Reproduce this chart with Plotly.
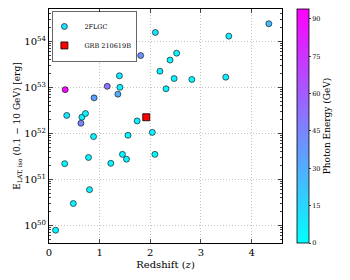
import plotly.graph_objects as go

# 2FLGC sample
redshift = [2.10, 1.81, 2.19, 1.39, 1.15, 1.40, 0.32, 1.36, 0.89, 0.35, 0.65, 0.72,
            0.63, 1.74, 4.34, 3.55, 2.52, 2.39, 2.47, 2.82, 3.49, 2.31, 0.88, 1.56,
            2.04, 1.45, 1.53, 2.09, 0.78, 1.22, 0.31, 0.80, 0.48, 0.13]
e_iso = [1.55e54, 4.9e53, 2.24e53, 1.78e53, 1.05e53, 1.0e53, 8.9e52, 7.1e52, 5.9e52,
         2.45e52, 2.24e52, 2.7e52, 1.66e52, 1.86e52, 2.4e54, 1.29e54, 5.5e53, 3.9e53,
         1.55e53, 1.48e53, 1.66e53, 9.3e52, 8.5e51, 9.1e51, 1.05e52, 3.5e51, 2.75e51,
         3.5e51, 3.0e51, 2.24e51, 2.2e51, 6.0e50, 3.0e50, 7.9e49]
photon_energy = [12, 40, 6, 8, 50, 5, 90, 30, 35, 10, 6, 5, 45, 5, 25, 6, 5, 4, 5,
                 4, 6, 5, 4, 3, 4, 5, 4, 3, 5, 4, 3, 5, 4, 3]

# GRB 210619B
grb_z = [1.92]
grb_e = [2.24e52]

ytick_vals = [1e50, 1e51, 1e52, 1e53, 1e54]
ytick_text = ["10<sup>50</sup>", "10<sup>51</sup>", "10<sup>52</sup>", "10<sup>53</sup>", "10<sup>54</sup>"]
minor_vals = [float(m) * 10.0 ** d for d in range(49, 55) for m in range(2, 10)]

FONT = "DejaVu Serif"

fig = go.Figure()
fig.add_trace(go.Scatter(
    x=redshift, y=e_iso, mode="markers", name="2FLGC",
    marker=dict(size=6, color=photon_energy, cmin=0, cmax=94,
                colorscale=[[0, "#00ffff"], [1, "#ff00ff"]],
                line=dict(color="black", width=0.6),
                colorbar=dict(x=1.063, xanchor="left", y=0.5, yanchor="middle",
                              len=1.0, lenmode="fraction", ypad=0, xpad=0,
                              thickness=12, outlinecolor="black", outlinewidth=0.8,
                              tickvals=[0, 15, 30, 45, 60, 75, 90], ticks="outside", ticklen=2,
                              tickfont=dict(family=FONT, size=6.5, color="black"),
                              title=dict(text="Photon Energy (GeV)", side="right",
                                         font=dict(family=FONT, size=9, color="black")))),
))
fig.add_trace(go.Scatter(
    x=grb_z, y=grb_e, mode="markers", name="GRB 210619B",
    marker=dict(size=7, symbol="square", color="red", line=dict(color="black", width=0.8)),
))

fig.update_layout(
    width=350, height=280,
    margin=dict(l=49, r=68, t=9, b=37, autoexpand=False),
    paper_bgcolor="white", plot_bgcolor="white",
    font=dict(family=FONT, size=10, color="black"),
    legend=dict(x=0.012, y=0.99, xanchor="left", yanchor="top",
                bgcolor="white", bordercolor="black", borderwidth=0.6,
                font=dict(family=FONT, size=6.5), itemsizing="trace",
                tracegroupgap=0, itemwidth=30, indentation=-8),
)
fig.update_xaxes(
    range=[0, 4.6], tickvals=[0, 1, 2, 3, 4], ticks="inside", ticklen=4,
    showline=True, linecolor="black", linewidth=1, mirror="ticks", automargin=False,
    showgrid=True, gridcolor="#c4c4c4", griddash="1px,2px", gridwidth=0.8, zeroline=False,
    tickfont=dict(family=FONT, size=10),
    title=dict(text="Redshift (<i>z</i>)", font=dict(family=FONT, size=10), standoff=3),
)
fig.update_yaxes(
    type="log", range=[49.62, 54.70], tickvals=ytick_vals, ticktext=ytick_text,
    ticks="inside", ticklen=4, automargin=False,
    minor=dict(tickvals=minor_vals, ticks="inside", ticklen=2, showgrid=False),
    showline=True, linecolor="black", linewidth=1, mirror="ticks",
    showgrid=True, gridcolor="#c4c4c4", griddash="1px,2px", gridwidth=0.8, zeroline=False,
    tickfont=dict(family=FONT, size=10),
    title=dict(text="E<sub>LAT, iso</sub> (0.1 − 10 GeV) [erg]", font=dict(family=FONT, size=9), standoff=2),
)

fig.write_html("out.html", config={"displayModeBar": False},
               post_script="document.body.style.margin='0';document.body.style.overflow='hidden';")
